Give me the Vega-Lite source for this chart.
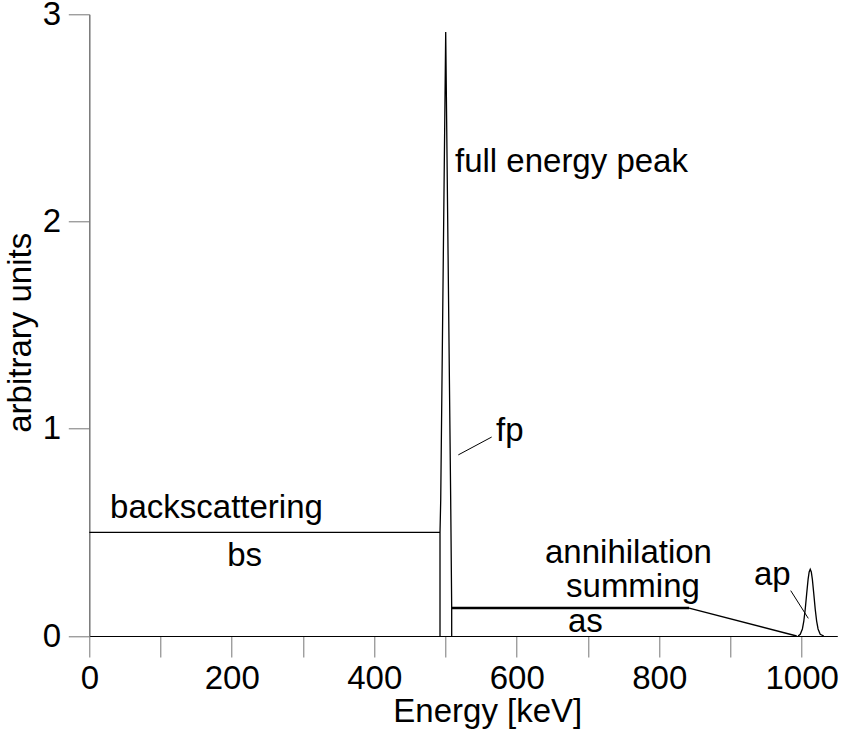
{
  "$schema": "https://vega.github.io/schema/vega-lite/v6.json",
  "width": 748,
  "height": 621.7,
  "autosize": {"type": "none"},
  "padding": {"left": 89.3, "top": 14.3, "right": 3.7, "bottom": 97},
  "background": "white",
  "config": {"view": {"stroke": null}, "font": "Liberation Sans"},
  "datasets": {
    "curve": [
      {"segment": "bs", "i": 0, "energy": 0, "value": 0.5},
      {"segment": "bs", "i": 1, "energy": 492.3, "value": 0.5},
      {"segment": "fp", "i": 0, "energy": 492.3, "value": 0},
      {"segment": "fp", "i": 1, "energy": 492.3, "value": 0.5},
      {"segment": "fp", "i": 2, "energy": 493.3, "value": 0.656},
      {"segment": "fp", "i": 3, "energy": 500.3, "value": 2.914},
      {"segment": "fp", "i": 4, "energy": 507.3, "value": 0.656},
      {"segment": "fp", "i": 5, "energy": 508.7, "value": 0.135},
      {"segment": "fp", "i": 6, "energy": 508.7, "value": 0},
      {"segment": "slope", "i": 0, "energy": 842, "value": 0.135},
      {"segment": "slope", "i": 1, "energy": 993, "value": 0},
      {"segment": "ap", "i": 0, "energy": 995, "value": 0},
      {"segment": "ap", "i": 1, "energy": 998, "value": 0.008},
      {"segment": "ap", "i": 2, "energy": 1001, "value": 0.034},
      {"segment": "ap", "i": 3, "energy": 1003, "value": 0.072},
      {"segment": "ap", "i": 4, "energy": 1005, "value": 0.13},
      {"segment": "ap", "i": 5, "energy": 1007, "value": 0.203},
      {"segment": "ap", "i": 6, "energy": 1009, "value": 0.273},
      {"segment": "ap", "i": 7, "energy": 1010.5, "value": 0.309},
      {"segment": "ap", "i": 8, "energy": 1012, "value": 0.322},
      {"segment": "ap", "i": 9, "energy": 1013.5, "value": 0.309},
      {"segment": "ap", "i": 10, "energy": 1015, "value": 0.273},
      {"segment": "ap", "i": 11, "energy": 1017, "value": 0.203},
      {"segment": "ap", "i": 12, "energy": 1019, "value": 0.13},
      {"segment": "ap", "i": 13, "energy": 1021, "value": 0.072},
      {"segment": "ap", "i": 14, "energy": 1023, "value": 0.034},
      {"segment": "ap", "i": 15, "energy": 1026, "value": 0.008},
      {"segment": "ap", "i": 16, "energy": 1031, "value": 0}
    ],
    "shelf": [
      {"segment": "as", "i": 0, "energy": 508.7, "value": 0.135},
      {"segment": "as", "i": 1, "energy": 842, "value": 0.135}
    ],
    "leaders": [
      {"segment": "fp", "i": 0, "energy": 518.0, "value": 0.874},
      {"segment": "fp", "i": 1, "energy": 564.8, "value": 0.96},
      {"segment": "ap", "i": 0, "energy": 984.6, "value": 0.219},
      {"segment": "ap", "i": 1, "energy": 1009.3, "value": 0.085}
    ],
    "labels": [
      {"label": "full energy peak", "energy": 513.3, "value": 2.239},
      {"label": "fp", "energy": 570.9, "value": 0.941},
      {"label": "backscattering", "energy": 29.2, "value": 0.569},
      {"label": "bs", "energy": 193.6, "value": 0.338},
      {"label": "annihilation", "energy": 639.7, "value": 0.352},
      {"label": "summing", "energy": 669.2, "value": 0.188},
      {"label": "as", "energy": 672, "value": 0.0193},
      {"label": "ap", "energy": 933, "value": 0.246}
    ]
  },
  "layer": [
    {
      "data": {"name": "curve"},
      "mark": {"type": "line", "color": "black", "strokeWidth": 1.3},
      "encoding": {
        "x": {
          "field": "energy", "type": "quantitative",
          "scale": {"domain": [0, 1050], "nice": false, "zero": false},
          "axis": {
            "title": "Energy [keV]",
            "values": [0, 50, 100, 150, 200, 250, 300, 350, 400, 450, 500, 550, 600, 650, 700, 750, 800, 850, 900, 950, 1000, 1050],
            "format": "d",
            "labelExpr": "datum.value % 200 === 0 ? datum.label : ''",
            "tickSize": {"condition": {"test": "datum.value % 100 === 0", "value": 21}, "value": 11},
            "tickColor": "#777",
            "tickWidth": 1,
            "domainColor": "black",
            "domainWidth": 1,
            "grid": false,
            "labelBaseline": "alphabetic",
            "labelPadding": 31.6,
            "labelFont": "Liberation Sans",
            "labelFontSize": 33,
            "labelColor": "black",
            "labelOverlap": false,
            "labelFlush": false,
            "labelBound": false,
            "titleFont": "Liberation Sans",
            "titleFontSize": 33,
            "titleFontWeight": "normal",
            "titleColor": "black",
            "titleX": 398,
            "titleY": 85,
            "titleBaseline": "alphabetic",
            "titleAlign": "center"
          }
        },
        "y": {
          "field": "value", "type": "quantitative",
          "scale": {"domain": [0, 3], "nice": false, "zero": false},
          "axis": {
            "title": "arbitrary units",
            "values": [0, 0.5, 1, 1.5, 2, 2.5, 3],
            "format": "d",
            "labelExpr": "datum.value % 1 === 0 ? datum.label : ''",
            "tickSize": {"condition": {"test": "datum.value % 1 === 0", "value": 21}, "value": 11},
            "tickColor": "#777",
            "tickWidth": 1,
            "domainColor": "#777",
            "domainWidth": 1.5,
            "grid": false,
            "labelPadding": 7.8,
            "labelFont": "Liberation Sans",
            "labelFontSize": 33,
            "labelColor": "black",
            "labelOverlap": false,
            "labelFlush": false,
            "labelBound": false,
            "titleFont": "Liberation Sans",
            "titleFontSize": 33,
            "titleFontWeight": "normal",
            "titleColor": "black",
            "titleAngle": -90,
            "titleX": -59.3,
            "titleY": 318,
            "titleBaseline": "alphabetic",
            "titleAlign": "center"
          }
        },
        "detail": {"field": "segment"},
        "order": {"field": "i"}
      }
    },
    {
      "data": {"name": "shelf"},
      "mark": {"type": "line", "color": "black", "strokeWidth": 2.4},
      "encoding": {
        "x": {"field": "energy", "type": "quantitative"},
        "y": {"field": "value", "type": "quantitative"},
        "detail": {"field": "segment"},
        "order": {"field": "i"}
      }
    },
    {
      "data": {"name": "leaders"},
      "mark": {"type": "line", "color": "black", "strokeWidth": 1},
      "encoding": {
        "x": {"field": "energy", "type": "quantitative"},
        "y": {"field": "value", "type": "quantitative"},
        "detail": {"field": "segment"},
        "order": {"field": "i"}
      }
    },
    {
      "data": {"name": "labels"},
      "mark": {"type": "text", "font": "Liberation Sans", "fontSize": 33, "color": "black", "align": "left", "baseline": "alphabetic"},
      "encoding": {
        "x": {"field": "energy", "type": "quantitative"},
        "y": {"field": "value", "type": "quantitative"},
        "text": {"field": "label"}
      }
    }
  ]
}
